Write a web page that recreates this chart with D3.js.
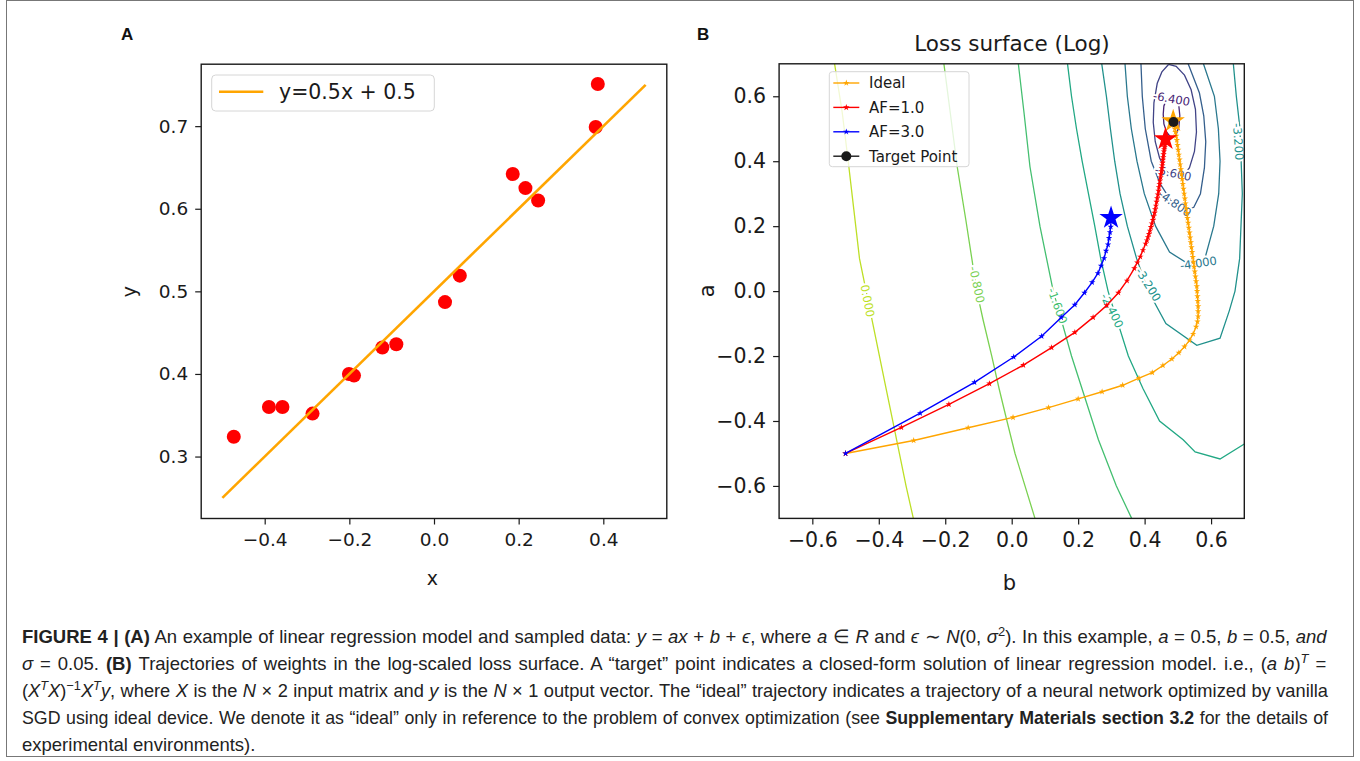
<!DOCTYPE html>
<html>
<head>
<meta charset="UTF-8">
<title>Figure 4</title>
<script src="https://d3js.org/d3.v7.min.js"></script>
<style>
  body { margin: 0; background: #fff; }
  svg { font-family: "DejaVu Sans", sans-serif; }
  .tick line { stroke: #1a1a1a; stroke-width: 1.2; }
  .tick text { fill: #1a1a1a; }
  .caption { font-family: "Liberation Sans", Arial, sans-serif; fill: #222; }
</style>
</head>
<body>
<script>
// ---- panel A data
const sampleX = [-0.473, -0.390, -0.358, -0.287, -0.201, -0.189, -0.122, -0.089, 0.026, 0.061, 0.186, 0.216, 0.246, 0.382, 0.387];
const sampleY = [0.324, 0.360, 0.360, 0.352, 0.400, 0.398, 0.432, 0.436, 0.487, 0.519, 0.642, 0.625, 0.610, 0.699, 0.751];
const fitX = [-0.5, 0.5];
const fitY = [0.25, 0.75];
const xTicksA = [-0.4, -0.2, 0.0, 0.2, 0.4];
const yTicksA = [0.3, 0.4, 0.5, 0.6, 0.7];

// ---- panel B data, points are (b, a)
const ticksB = [-0.6, -0.4, -0.2, 0.0, 0.2, 0.4, 0.6];
const idealPath = [[-0.5,-0.5],[-0.295,-0.46],[-0.131,-0.421],[0.004,-0.389],[0.111,-0.359],[0.2,-0.332],[0.272,-0.31],[0.334,-0.29],[0.383,-0.268],[0.423,-0.251],[0.455,-0.229],[0.482,-0.209],[0.503,-0.19],[0.52,-0.171],[0.535,-0.152],[0.546,-0.132],[0.555,-0.11],[0.559,-0.094],[0.561,-0.078],[0.561,-0.062],[0.561,-0.047],[0.56,-0.031],[0.559,-0.016],[0.558,0.0],[0.557,0.015],[0.555,0.03],[0.553,0.045],[0.551,0.06],[0.549,0.075],[0.547,0.09],[0.545,0.105],[0.543,0.12],[0.541,0.135],[0.539,0.15],[0.537,0.165],[0.535,0.18],[0.533,0.195],[0.531,0.21],[0.529,0.225],[0.527,0.24],[0.525,0.255],[0.523,0.27],[0.521,0.285],[0.519,0.3],[0.517,0.315],[0.515,0.33],[0.513,0.345],[0.511,0.36],[0.509,0.375],[0.507,0.39],[0.505,0.405],[0.503,0.42],[0.501,0.435],[0.499,0.45],[0.497,0.465],[0.495,0.478],[0.493,0.49],[0.491,0.5],[0.489,0.51]];
const af1Path = [[-0.5,-0.5],[-0.332,-0.42],[-0.189,-0.349],[-0.067,-0.285],[0.035,-0.228],[0.12,-0.174],[0.19,-0.127],[0.245,-0.081],[0.286,-0.044],[0.321,-0.005],[0.347,0.032],[0.369,0.07],[0.378,0.088],[0.387,0.106],[0.395,0.126],[0.403,0.146],[0.407,0.156],[0.41,0.166],[0.413,0.176],[0.416,0.186],[0.419,0.197],[0.422,0.208],[0.425,0.219],[0.427,0.23],[0.43,0.241],[0.432,0.252],[0.434,0.263],[0.436,0.275],[0.438,0.286],[0.44,0.297],[0.442,0.309],[0.443,0.32],[0.445,0.33],[0.446,0.34],[0.448,0.35],[0.449,0.36],[0.451,0.369],[0.452,0.378],[0.453,0.387],[0.454,0.395],[0.455,0.404],[0.456,0.412],[0.457,0.421],[0.458,0.43],[0.459,0.437],[0.46,0.443],[0.461,0.45],[0.461,0.455],[0.462,0.46],[0.463,0.465]];
const af3Path = [[-0.5,-0.5],[-0.2755,-0.376],[-0.112,-0.281],[0.006,-0.203],[0.09,-0.139],[0.149,-0.081],[0.19,-0.042],[0.219,-0.005],[0.242,0.027],[0.2595,0.055],[0.269,0.078],[0.278,0.101],[0.284,0.124],[0.29,0.143],[0.293,0.163],[0.296,0.181],[0.298,0.198],[0.299,0.215],[0.299,0.226]];
const endStars = [[0.486, 0.524, "orange"], [0.463, 0.468, "red"], [0.299, 0.226, "blue"]];
const targetPoint = [0.487, 0.521];

const contourLevels = [0.0, -0.8, -1.6, -2.4, -3.2, -4.0, -4.8, -5.6, -6.4];
const contourLines = [
  [[-0.533,0.7],[-0.51,0.55],[-0.492,0.4],[-0.475,0.25],[-0.458,0.1],[-0.438,0.0],[-0.418,-0.1],[-0.398,-0.2],[-0.378,-0.3],[-0.358,-0.4],[-0.338,-0.5],[-0.318,-0.6],[-0.296,-0.7]],
  [[-0.204,0.7],[-0.185,0.55],[-0.164,0.383],[-0.138,0.219],[-0.12,0.1],[-0.105,0.0],[-0.086,-0.089],[-0.06,-0.2],[-0.038,-0.3],[-0.015,-0.397],[0.01,-0.5],[0.04,-0.6],[0.07,-0.7]],
  [[0.02,0.7],[0.037,0.55],[0.055,0.383],[0.085,0.2],[0.125,0.0],[0.18,-0.2],[0.261,-0.458],[0.315,-0.6],[0.361,-0.7]],
  [[0.168,0.7],[0.18,0.6],[0.195,0.5],[0.212,0.4],[0.231,0.3],[0.25,0.2],[0.268,0.1],[0.29,0.0],[0.305,-0.05],[0.351,-0.2],[0.395,-0.3],[0.445,-0.4],[0.516,-0.458],[0.552,-0.495],[0.627,-0.517],[0.70,-0.471]],
  [[0.271,0.7],[0.285,0.6],[0.297,0.5],[0.31,0.4],[0.326,0.3],[0.348,0.2],[0.376,0.1],[0.411,0.0],[0.464,-0.1],[0.557,-0.167],[0.627,-0.145],[0.655,-0.06],[0.672,0.0],[0.686,0.1],[0.694,0.3],[0.687,0.5],[0.676,0.6],[0.667,0.7]],
  [[0.341,0.7],[0.348,0.6],[0.36,0.5],[0.377,0.4],[0.399,0.3],[0.433,0.2],[0.475,0.12],[0.53,0.085],[0.58,0.095],[0.608,0.2],[0.623,0.3],[0.627,0.4],[0.622,0.5],[0.61,0.6],[0.577,0.7]],
  [[0.389,0.7],[0.393,0.6],[0.402,0.5],[0.42,0.4],[0.447,0.33],[0.478,0.28],[0.517,0.247],[0.548,0.258],[0.568,0.3],[0.58,0.38],[0.584,0.46],[0.578,0.54],[0.565,0.61],[0.531,0.7]],
  [[0.472,0.698],[0.452,0.675],[0.438,0.64],[0.428,0.58],[0.426,0.52],[0.432,0.46],[0.445,0.41],[0.465,0.37],[0.49,0.348],[0.515,0.352],[0.535,0.38],[0.55,0.43],[0.556,0.49],[0.553,0.56],[0.54,0.62],[0.52,0.665],[0.495,0.692],[0.472,0.698]],
  [[0.481,0.6],[0.466,0.59],[0.458,0.57],[0.456,0.545],[0.458,0.515],[0.466,0.49],[0.48,0.472],[0.494,0.48],[0.503,0.505],[0.506,0.54],[0.503,0.57],[0.495,0.59],[0.481,0.6]]
];
const contourLabels = [
  [-0.434, -0.03, 79, "0.000", 0.0],
  [-0.105, 0.02, 78, "-0.800", -0.8],
  [0.138, -0.045, 70, "-1.600", -1.6],
  [0.302, -0.06, 64, "-2.400", -2.4],
  [0.411, 0.02, 58, "-3.200", -3.2],
  [0.682, 0.46, 86, "-3.200", -3.2],
  [0.562, 0.086, -8, "-4.000", -4.0],
  [0.491, 0.27, 35, "-4.800", -4.8],
  [0.486, 0.363, 12, "-5.600", -5.6],
  [0.481, 0.592, 10, "-6.400", -6.4]
];

const svg = d3.select("body").append("svg").attr("width", 1360).attr("height", 761);
const ink = "#1a1a1a";

svg.append("rect").attr("x", 6.5).attr("y", 0.5).attr("width", 1347).attr("height", 756)
  .attr("fill", "none").attr("stroke", "#777").attr("stroke-width", 1);

// ================= Panel A =================
const xA = d3.scaleLinear().domain([-0.55, 0.55]).range([201.2, 666.8]);
const yA = d3.scaleLinear().domain([0.225, 0.775]).range([518.5, 64.2]);
const gA = svg.append("g");

gA.append("g").attr("transform", "translate(0,518.5)")
  .call(d3.axisBottom(xA).tickValues(xTicksA).tickSize(6).tickPadding(8).tickFormat(d3.format(".1f")))
  .call(g => g.select(".domain").remove())
  .selectAll("text").attr("font-size", 18.5).attr("font-family", "DejaVu Sans");
gA.append("g").attr("transform", "translate(201.2,0)")
  .call(d3.axisLeft(yA).tickValues(yTicksA).tickSize(6).tickPadding(7).tickFormat(d3.format(".1f")))
  .call(g => g.select(".domain").remove())
  .selectAll("text").attr("font-size", 18.5).attr("font-family", "DejaVu Sans");

gA.selectAll("circle.dot").data(sampleX).join("circle").attr("class", "dot")
  .attr("cx", d => xA(d)).attr("cy", (d, i) => yA(sampleY[i])).attr("r", 7).attr("fill", "#ff0000");

gA.append("path")
  .attr("d", d3.line()(fitX.map((d, i) => [xA(d), yA(fitY[i])])))
  .attr("stroke", "#ffa500").attr("stroke-width", 2.6).attr("fill", "none");

gA.append("rect").attr("x", 201.2).attr("y", 64.2).attr("width", 465.6).attr("height", 454.3)
  .attr("fill", "none").attr("stroke", ink).attr("stroke-width", 1.4);

// legend A
gA.append("rect").attr("x", 211.7).attr("y", 75).attr("width", 222.6).attr("height", 36).attr("rx", 4)
  .attr("fill", "#fff").attr("fill-opacity", 0.8).attr("stroke", "#d6d6d6");
gA.append("line").attr("x1", 219).attr("x2", 263.3).attr("y1", 91.7).attr("y2", 91.7)
  .attr("stroke", "#ffa500").attr("stroke-width", 2.6);
gA.append("text").attr("x", 279).attr("y", 99).attr("font-size", 20.5).attr("fill", ink).text("y=0.5x + 0.5");

gA.append("text").attr("x", 432.3).attr("y", 585).attr("text-anchor", "middle").attr("font-size", 19).attr("fill", ink).text("x");
gA.append("text").attr("transform", "translate(136,291.7) rotate(-90)").attr("text-anchor", "middle").attr("font-size", 19).attr("fill", ink).text("y");
gA.append("text").attr("x", 121).attr("y", 40).attr("font-size", 17).attr("font-weight", "bold")
  .attr("font-family", "Liberation Sans, Arial, sans-serif").attr("fill", "#111").text("A");

// ================= Panel B =================
const xB = d3.scaleLinear().domain([-0.7, 0.7]).range([779.1, 1244.3]);
const yB = d3.scaleLinear().domain([-0.7, 0.7]).range([518.4, 63.8]);
const gB = svg.append("g");
const levelColor = lv => d3.interpolateViridis((lv + 7.2) / 8.0);

gB.append("g").attr("transform", "translate(0,518.4)")
  .call(d3.axisBottom(xB).tickValues(ticksB).tickSize(6).tickPadding(8).tickFormat(d3.format(".1f")))
  .call(g => g.select(".domain").remove())
  .selectAll("text").attr("font-size", 20.5).attr("font-family", "DejaVu Sans");
gB.append("g").attr("transform", "translate(779.1,0)")
  .call(d3.axisLeft(yB).tickValues(ticksB).tickSize(6).tickPadding(7).tickFormat(d3.format(".1f")))
  .call(g => g.select(".domain").remove())
  .selectAll("text").attr("font-size", 20.5).attr("font-family", "DejaVu Sans");

gB.append("clipPath").attr("id", "clipB").append("rect")
  .attr("x", 779.1).attr("y", 63.8).attr("width", 465.2).attr("height", 454.6);
const plotB = gB.append("g").attr("clip-path", "url(#clipB)");
const lineB = d3.line().x(d => xB(d[0])).y(d => yB(d[1]));

plotB.selectAll("path.contour").data(contourLines).join("path").attr("class", "contour")
  .attr("d", lineB).attr("fill", "none").attr("stroke-width", 1.3)
  .attr("stroke", (d, i) => levelColor(contourLevels[i]));

plotB.selectAll("text.clabel").data(contourLabels).join("text").attr("class", "clabel")
  .attr("transform", d => `translate(${xB(d[0])},${yB(d[1])}) rotate(${d[2]})`)
  .attr("text-anchor", "middle").attr("dy", "0.35em").attr("font-size", 11.5)
  .attr("fill", d => levelColor(d[4]))
  .attr("stroke", "#fff").attr("stroke-width", 4).attr("paint-order", "stroke")
  .text(d => d[3]);

const trajectories = [[idealPath, "#ffa500"], [af1Path, "#ff0000"], [af3Path, "#0000ff"]];
trajectories.forEach(([pts, col]) => {
  plotB.append("path").attr("d", lineB(pts)).attr("fill", "none").attr("stroke", col).attr("stroke-width", 1.4);
  plotB.selectAll(null).data(pts).join("path")
    .attr("transform", d => `translate(${xB(d[0])},${yB(d[1])})`)
    .attr("d", d3.symbol(d3.symbolStar, 13)).attr("fill", col);
});
plotB.selectAll("path.endstar").data(endStars).join("path").attr("class", "endstar")
  .attr("transform", d => `translate(${xB(d[0])},${yB(d[1])})`)
  .attr("d", d3.symbol(d3.symbolStar, 170)).attr("fill", d => d[2]);
plotB.append("circle").attr("cx", xB(targetPoint[0])).attr("cy", yB(targetPoint[1])).attr("r", 5).attr("fill", ink);

gB.append("rect").attr("x", 779.1).attr("y", 63.8).attr("width", 465.2).attr("height", 454.6)
  .attr("fill", "none").attr("stroke", ink).attr("stroke-width", 1.4);

// legend B
const legB = [["Ideal", "#ffa500", "star"], ["AF=1.0", "#ff0000", "star"], ["AF=3.0", "#0000ff", "star"], ["Target Point", ink, "dot"]];
gB.append("rect").attr("x", 829.3).attr("y", 71.7).attr("width", 139.7).attr("height", 95).attr("rx", 3)
  .attr("fill", "#fff").attr("fill-opacity", 0.8).attr("stroke", "#d6d6d6");
legB.forEach((d, i) => {
  const y = 83 + i * 24.4;
  gB.append("line").attr("x1", 833.3).attr("x2", 859.3).attr("y1", y).attr("y2", y).attr("stroke", d[1]).attr("stroke-width", 1.4);
  if (d[2] === "dot") gB.append("circle").attr("cx", 846.3).attr("cy", y).attr("r", 5).attr("fill", d[1]);
  else gB.append("path").attr("transform", `translate(846.3,${y})`).attr("d", d3.symbol(d3.symbolStar, 13)).attr("fill", d[1]);
  gB.append("text").attr("x", 869).attr("y", y + 5.3).attr("font-size", 15).attr("fill", ink).text(d[0]);
});

gB.append("text").attr("x", 1012).attr("y", 51).attr("text-anchor", "middle").attr("font-size", 21.5).attr("fill", ink).text("Loss surface (Log)");
gB.append("text").attr("x", 1009.3).attr("y", 590).attr("text-anchor", "middle").attr("font-size", 21).attr("fill", ink).text("b");
gB.append("text").attr("transform", "translate(714,290.7) rotate(-90)").attr("text-anchor", "middle").attr("font-size", 21).attr("fill", ink).text("a");
gB.append("text").attr("x", 697).attr("y", 40).attr("font-size", 17).attr("font-weight", "bold")
  .attr("font-family", "Liberation Sans, Arial, sans-serif").attr("fill", "#111").text("B");

// ================= Caption =================
const capLines = [
  [["b","FIGURE 4 | (A)"],["n"," An example of linear regression model and sampled data: "],["i","y"],["n"," = "],["i","ax"],["n"," + "],["i","b"],["n"," + "],["i","ϵ"],["n",",  where "],["i","a"],["n"," ∈ "],["i","R"],["n"," and "],["i","ϵ"],["n"," ∼ "],["i","N"],["n","(0, "],["i","σ"],["s","2"],["n","). In this example, "],["i","a"],["n"," = 0.5,  "],["i","b"],["n"," = 0.5,  "],["i","and"]],
  [["i","σ"],["n"," = 0.05. "],["b","(B)"],["n"," Trajectories of weights in the log-scaled loss surface. A “target” point indicates a closed-form solution of linear regression model. i.e., ("],["i","a  b"],["n",")"],["si","T"],["n"," ="]],
  [["n","("],["i","X"],["si","T"],["i","X"],["n",")"],["s","−1"],["i","X"],["si","T"],["i","y"],["n",", where "],["i","X"],["n"," is the "],["i","N"],["n"," × 2 input matrix and "],["i","y"],["n"," is the "],["i","N"],["n"," × 1 output vector. The “ideal” trajectory indicates a trajectory of a neural network optimized by vanilla"]],
  [["n","SGD using ideal device. We denote it as “ideal” only in reference to the problem of convex optimization (see "],["b","Supplementary Materials section 3.2"],["n"," for the details of"]],
  [["n","experimental environments)."]]
];
const capWidth = 1306;
capLines.forEach((parts, li) => {
  const t = svg.append("text").attr("class", "caption").attr("x", 22).attr("y", 643 + li * 27);
  let fs = 18.5;
  t.attr("font-size", fs);
  let up = false;
  parts.forEach(([k, s]) => {
    const sp = t.append("tspan").text(s);
    if (k === "b") sp.attr("font-weight", "bold");
    if (k === "i" || k === "si") sp.attr("font-style", "italic");
    if (k === "s" || k === "si") { sp.attr("font-size", "0.7em").attr("dy", up ? 0 : -7); up = true; }
    else if (up) { sp.attr("dy", 7); up = false; }
  });
  if (li < 4) {
    // shrink until the line fits, then justify with word spacing
    while (t.node().getComputedTextLength() > capWidth && fs > 12) { fs -= 0.25; t.attr("font-size", fs); }
    const spaces = parts.reduce((n, p) => n + (p[1].match(/ /g) || []).length, 0);
    const extra = capWidth - t.node().getComputedTextLength();
    if (spaces > 0 && extra > 0) t.attr("word-spacing", extra / spaces);
  }
});
</script>
</body>
</html>
